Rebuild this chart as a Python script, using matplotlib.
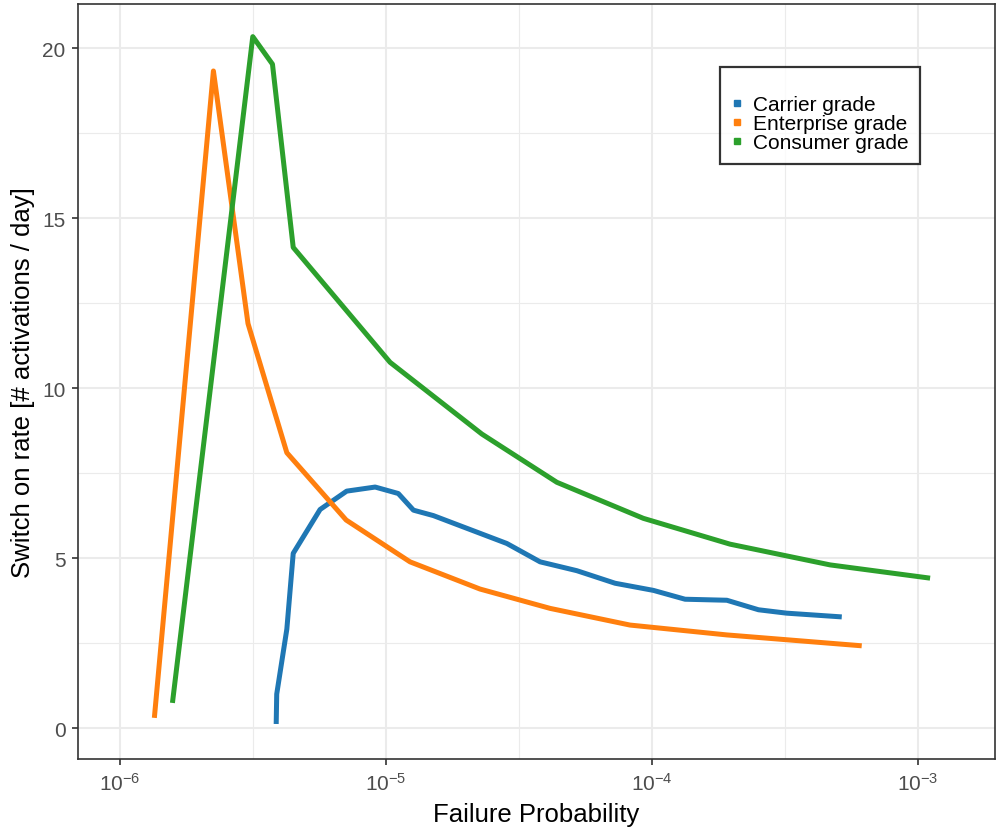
import numpy as np
import matplotlib
matplotlib.use("Agg")
import matplotlib.pyplot as plt
from matplotlib.lines import Line2D

plt.rcParams['font.family'] = ['Liberation Sans', 'DejaVu Sans']
plt.rcParams['mathtext.fontset'] = 'custom'
plt.rcParams['mathtext.rm'] = 'Liberation Sans'
plt.rcParams['mathtext.it'] = 'Liberation Sans'

# log10 of failure probability, and switch-on rate
carrier_lx = [-5.413, -5.411, -5.373, -5.349, -5.248, -5.148, -5.041, -4.954, -4.897,
              -4.822, -4.546, -4.421, -4.283, -4.139, -3.995, -3.876, -3.719, -3.600,
              -3.494, -3.287]
carrier_y = [0.12, 1.0, 2.91, 5.14, 6.43, 6.97, 7.09, 6.90, 6.41,
             6.25, 5.43, 4.89, 4.63, 4.26, 4.05, 3.79, 3.76, 3.48,
             3.38, 3.27]

enterprise_lx = [-5.871, -5.649, -5.519, -5.373, -5.150, -4.910, -4.647, -4.383,
                 -4.083, -3.719, -3.212]
enterprise_y = [0.30, 19.33, 11.90, 8.10, 6.12, 4.89, 4.09, 3.52,
                3.03, 2.74, 2.42]

consumer_lx = [-5.803, -5.501, -5.427, -5.349, -4.985, -4.640, -4.358, -4.033,
               -3.707, -3.331, -2.955]
consumer_y = [0.74, 20.34, 19.53, 14.14, 10.76, 8.65, 7.23, 6.17,
              5.41, 4.80, 4.41]

labels = ['Carrier grade', 'Enterprise grade', 'Consumer grade']
colors = ['#1f77b4', '#ff7f0e', '#2ca02c']

fig = plt.figure(figsize=(9.96, 8.29), dpi=100)
ax = fig.add_axes([78 / 996, 1 - 760 / 829, 917 / 996, 755 / 829])

series = [(carrier_lx, carrier_y), (enterprise_lx, enterprise_y), (consumer_lx, consumer_y)]
for (lx, y), c in zip(series, colors):
    ax.plot(10 ** np.array(lx), y, color=c, lw=3.6, solid_capstyle='butt', zorder=3)

ax.set_xscale('log')
ax.set_xlim(10 ** -6.158, 10 ** -2.711)
ax.set_ylim(-0.91, 21.3)

xt = [1e-6, 1e-5, 1e-4, 1e-3]
ax.set_xticks(xt)
ax.set_xticklabels([r'$\mathregular{10^{%d}}$' % e for e in [-6, -5, -4, -3]])
ax.set_xticks([10 ** -5.5, 10 ** -4.5, 10 ** -3.5], minor=True)
ax.set_yticks([0, 5, 10, 15, 20])
ax.set_yticks([2.5, 7.5, 12.5, 17.5], minor=True)

ax.grid(True, which='major', color='#EBEBEB', lw=1.5, zorder=0)
ax.grid(True, which='minor', color='#EBEBEB', lw=0.8, zorder=0)
ax.set_axisbelow(True)
ax.tick_params(which='major', length=4.5, width=1.2, color='#333333',
               labelsize=15, labelcolor='#4D4D4D', pad=4.5)
ax.tick_params(which='minor', length=0)
for s in ax.spines.values():
    s.set_color('#333333')
    s.set_linewidth(1.2)

ax.set_xlabel('Failure Probability', fontsize=18.5, labelpad=6)
ax.set_ylabel('Switch on rate [# activations / day]', fontsize=18.5, labelpad=5)

handles = [Line2D([], [], ls='none', marker='s', ms=4.5, color=c) for c in colors]
leg = ax.legend(handles, labels, title=' ', loc='upper left',
                bbox_to_anchor=((720 - 78) / 917, (760 - 68) / 755),
                fontsize=15, title_fontsize=13, frameon=True, fancybox=False,
                edgecolor='black', handlelength=0.5, handletextpad=0.55,
                labelspacing=0.0, borderpad=0.55, borderaxespad=0)
leg.get_frame().set_linewidth(1.6)

fig.savefig('out.png', dpi=100)
